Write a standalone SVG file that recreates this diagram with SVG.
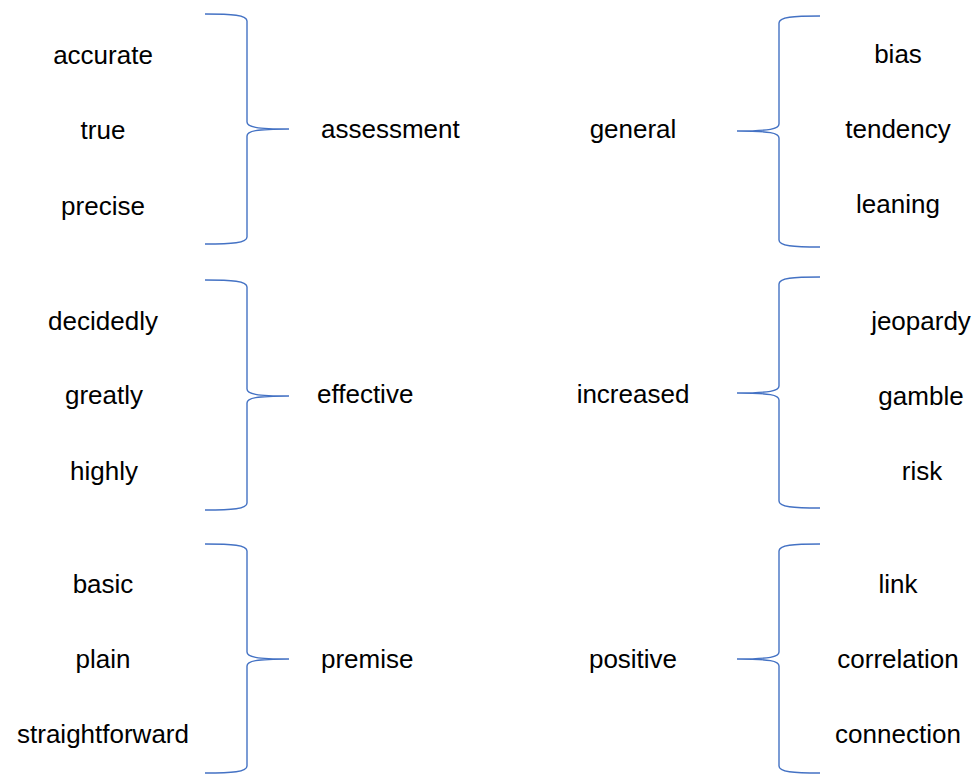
<svg xmlns="http://www.w3.org/2000/svg" width="977" height="774" viewBox="0 0 977 774">
<style>
text{font-family:"Liberation Sans",Arial,sans-serif;font-size:26px;fill:#000}
.c{text-anchor:middle}
.s{text-anchor:start}
.brace{fill:none;stroke:#4472C4;stroke-width:1.4}
</style>
<rect width="977" height="774" fill="#fff"/>
<g id="connectors">
<path class="brace" d="M205,14 C232,14 247,15 247,21 L247,122 C247,127 256,129 289,129 C256,129 247,131 247,136 L247,237 C247,243 232,244 205,244"/>
<path class="brace" d="M205,280 C232,280 247,281 247,287 L247,389 C247,394 256,396 289,396 C256,396 247,398 247,403 L247,503 C247,509 232,510 205,510"/>
<path class="brace" d="M205,544 C232,544 247,545 247,551 L247,652 C247,657 256,659 289,659 C256,659 247,661 247,666 L247,766 C247,772 232,773 205,773"/>
<path class="brace" d="M820,16 C793,16 779,17 779,23 L779,124 C779,129 770,131 737,131 C770,131 779,133 779,138 L779,240 C779,246 793,247 820,247"/>
<path class="brace" d="M820,277 C793,277 779,278 779,284 L779,386 C779,391 770,393 737,393 C770,393 779,395 779,400 L779,501 C779,507 793,508 820,508"/>
<path class="brace" d="M820,544 C793,544 779,545 779,551 L779,652 C779,657 770,659 737,659 C770,659 779,661 779,666 L779,766 C779,772 793,773 820,773"/>
</g>
<g id="n-accurate"><text class="c" x="103" y="64">accurate</text></g>
<g id="n-true"><text class="c" x="103" y="139">true</text></g>
<g id="n-precise"><text class="c" x="103" y="215">precise</text></g>
<g id="n-assessment"><text class="s" x="321" y="138">assessment</text></g>
<g id="n-decidedly"><text class="c" x="103" y="330">decidedly</text></g>
<g id="n-greatly"><text class="c" x="104" y="404">greatly</text></g>
<g id="n-highly"><text class="c" x="104" y="480">highly</text></g>
<g id="n-effective"><text class="s" x="317" y="403">effective</text></g>
<g id="n-basic"><text class="c" x="103" y="593">basic</text></g>
<g id="n-plain"><text class="c" x="103" y="668">plain</text></g>
<g id="n-straightforward"><text class="c" x="103" y="743">straightforward</text></g>
<g id="n-premise"><text class="s" x="321" y="668">premise</text></g>
<g id="n-general"><text class="c" x="633" y="138">general</text></g>
<g id="n-bias"><text class="c" x="898" y="63">bias</text></g>
<g id="n-tendency"><text class="c" x="898" y="138">tendency</text></g>
<g id="n-leaning"><text class="c" x="898" y="213">leaning</text></g>
<g id="n-increased"><text class="c" x="633" y="403">increased</text></g>
<g id="n-jeopardy"><text class="c" x="921" y="330">jeopardy</text></g>
<g id="n-gamble"><text class="c" x="921" y="405">gamble</text></g>
<g id="n-risk"><text class="c" x="922" y="480">risk</text></g>
<g id="n-positive"><text class="c" x="633" y="668">positive</text></g>
<g id="n-link"><text class="c" x="898" y="593">link</text></g>
<g id="n-correlation"><text class="c" x="898" y="668">correlation</text></g>
<g id="n-connection"><text class="c" x="898" y="743">connection</text></g>
</svg>
